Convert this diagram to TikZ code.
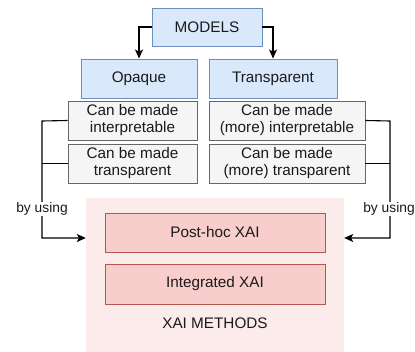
\documentclass[tikz,border=0pt]{standalone}
\usepackage{fontspec}
\setmainfont{Liberation Sans}
\usetikzlibrary{arrows.meta}
\definecolor{bluefill}{HTML}{DAE8FC}
\definecolor{bluedraw}{HTML}{6C8EBF}
\definecolor{greyfill}{HTML}{F5F5F5}
\definecolor{greydraw}{HTML}{666666}
\definecolor{redfill}{HTML}{F8CECC}
\definecolor{reddraw}{HTML}{B85450}
\definecolor{contfill}{RGB}{252,235,235}
\definecolor{txt}{HTML}{1A1A1A}
\tikzset{
  box/.style={draw, line width=0.9pt, inner sep=0pt, align=center, text=txt,
    font=\fontsize{15.3}{17}\selectfont},
  bluebox/.style={box, fill=bluefill, draw=bluedraw},
  greybox/.style={box, fill=greyfill, draw=greydraw},
  redbox/.style={box, fill=redfill, draw=reddraw},
  conn/.style={line width=1.1pt, -{Stealth[length=9pt,width=8pt,inset=2pt]}},
  seg/.style={line width=1.1pt},
  lbl/.style={fill=white, inner sep=1pt, text=txt, font=\fontsize{13.8}{15}\selectfont}
}
\begin{document}
\begin{tikzpicture}[x=1pt,y=-1pt]
\useasboundingbox (0,0) rectangle (415,352);
\node[draw=none, fill=contfill, minimum width=258, minimum height=156, inner sep=0pt] (cont) at (215,276) {};
\node[bluebox, minimum width=110, minimum height=38] (models) at (207,27) {MODELS};
\node[bluebox, minimum width=116, minimum height=39] (opaque) at (139,78.5) {Opaque};
\node[bluebox, minimum width=128, minimum height=39] (transp) at (273,78.5) {Transparent};
\node[greybox, minimum width=129, minimum height=39] (l1) at (132.5,120.5) {Can be made\\interpretable};
\node[greybox, minimum width=129, minimum height=39] (l2) at (132.5,163.5) {Can be made\\transparent};
\node[greybox, minimum width=156, minimum height=39] (r1) at (287,120.5) {Can be made\\(more) interpretable};
\node[greybox, minimum width=156, minimum height=39] (r2) at (287,163.5) {Can be made\\(more) transparent};
\node[redbox, minimum width=220, minimum height=39] (post) at (215,232.5) {Post-hoc XAI};
\node[redbox, minimum width=220, minimum height=40] (integ) at (215,284) {Integrated XAI};
\node[text=txt, font=\fontsize{15.3}{17}\selectfont] (methods) at (215,323) {XAI METHODS};

\draw[conn] (models.west) -| (opaque.north);
\draw[conn] (models.east) -| (transp.north);

\coordinate (lt) at (42,121);
\coordinate (lb) at (42,238);
\coordinate (rt) at (390,121);
\coordinate (rb) at (390,238);
\draw[conn] (l1.west) -- (lt) -- (lb) -- (lb -| cont.west);
\draw[seg] (l2.west) -- (l2.west -| lt);
\draw[conn] (r1.east) -- (rt) -- (rb) -- (rb -| cont.east);
\draw[seg] (r2.east) -- (r2.east -| rt);
\node[lbl] (byl) at (42,209) {by using};
\node[lbl] (byr) at (389,209) {by using};
\end{tikzpicture}
\end{document}
